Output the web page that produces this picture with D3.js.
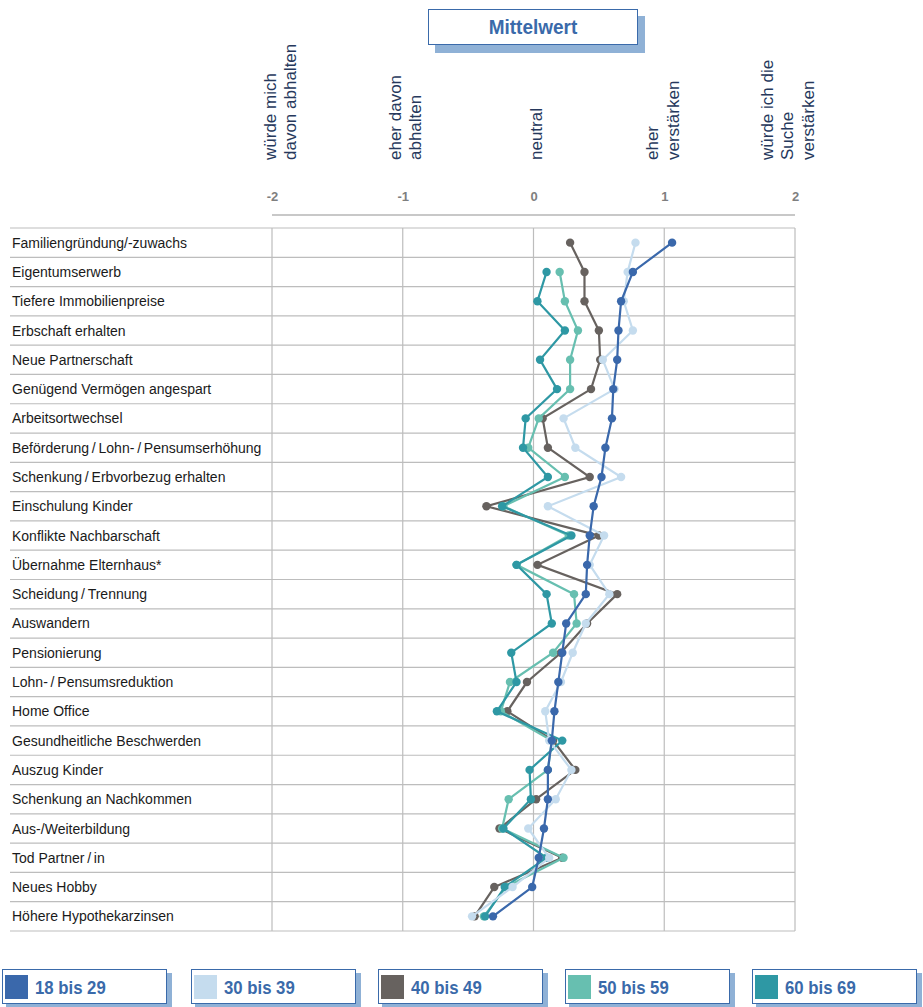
<!DOCTYPE html>
<html><head><meta charset="utf-8">
<script src="https://cdn.jsdelivr.net/npm/d3@7"></script>
<style>
html,body{margin:0;padding:0;background:#fff;}
svg{display:block;font-family:"Liberation Sans",Arial,sans-serif;}
</style></head>
<body>
<svg id="chart" width="923" height="1007"></svg>
<script>
const categories = [
  "Familiengründung/-zuwachs","Eigentumserwerb","Tiefere Immobilienpreise","Erbschaft erhalten",
  "Neue Partnerschaft","Genügend Vermögen angespart","Arbeitsortwechsel",
  "Beförderung\u2009/\u2009Lohn-\u2009/\u2009Pensumserhöhung","Schenkung\u2009/\u2009Erbvorbezug erhalten",
  "Einschulung Kinder","Konflikte Nachbarschaft","Übernahme Elternhaus*","Scheidung\u2009/\u2009Trennung",
  "Auswandern","Pensionierung","Lohn-\u2009/\u2009Pensumsreduktion","Home Office","Gesundheitliche Beschwerden",
  "Auszug Kinder","Schenkung an Nachkommen","Aus-/Weiterbildung","Tod Partner\u2009/\u2009in","Neues Hobby",
  "Höhere Hypothekarzinsen"
];
const seriesNames = ["18 bis 29","30 bis 39","40 bis 49","50 bis 59","60 bis 69"];
const v18_29 = [1.06,0.76,0.67,0.65,0.64,0.61,0.60,0.55,0.52,0.46,0.43,0.41,0.40,0.25,0.22,0.19,0.16,0.14,0.11,0.11,0.08,0.04,-0.01,-0.31];
const v30_39 = [0.78,0.72,0.69,0.76,0.53,0.62,0.23,0.32,0.67,0.11,0.54,0.43,0.58,0.40,0.30,0.21,0.09,0.12,0.29,0.17,-0.04,0.12,-0.16,-0.47];
const v40_49 = [0.28,0.39,0.39,0.50,0.51,0.44,0.07,0.11,0.43,-0.36,0.50,0.03,0.64,0.41,0.21,-0.05,-0.20,0.15,0.32,0.02,-0.26,0.22,-0.30,-0.45];
const v50_59 = [null,0.20,0.24,0.34,0.28,0.28,0.04,-0.04,0.24,-0.23,0.27,-0.13,0.31,0.33,0.15,-0.18,-0.25,0.14,0.11,-0.19,-0.24,0.23,-0.21,-0.38];
const v60_69 = [null,0.10,0.03,0.24,0.05,0.18,-0.06,-0.08,0.11,-0.24,0.29,-0.13,0.10,0.14,-0.17,-0.13,-0.28,0.22,-0.03,-0.02,-0.23,0.10,-0.22,-0.37];
const tickValues = [-2,-1,0,1,2];
const tickLabels = ["-2","-1","0","1","2"];
const scaleLabels = [["würde mich","davon abhalten"],["eher davon","abhalten"],["neutral"],["eher","verstärken"],["würde ich die","Suche","verstärken"]];
const colors = ["#3a68ab","#c5dcee","#67625f","#67bfb0","#2e98a4"];

const seriesValues = [v18_29,v30_39,v40_49,v50_59,v60_69];
const svg = d3.select("#chart");
const blue = "#3a6aaa", shadow = "#8fb1d6";
const narrow = "'Liberation Sans Narrow','Arial Narrow','Liberation Sans',sans-serif";

const x = d3.scaleLinear().domain([-2,2]).range([272,795]);
const y = d3.scaleBand().domain(categories).range([228,931]);

// title box
svg.append("rect").attr("x",435).attr("y",16).attr("width",210).attr("height",37).attr("fill",shadow);
svg.append("rect").attr("x",428.5).attr("y",9.5).attr("width",209).attr("height",35).attr("fill","#fff").attr("stroke",blue).attr("stroke-width",1);
svg.append("text").attr("transform","translate(533,34) scale(0.95,1)").attr("text-anchor","middle").attr("fill",blue)
  .attr("font-weight","bold").attr("font-size",20).style("font-family",narrow).text("Mittelwert");

// rotated scale labels
const labelShift = [8,2,2,-2,-8];
scaleLabels.forEach((lines,i)=>{
  const cx = x(tickValues[i]) + labelShift[i];
  const n = lines.length;
  lines.forEach((t,j)=>{
    const lx = cx + (j-(n-1)/2)*20.5 + 6;
    svg.append("text").attr("transform",`translate(${lx},160) rotate(-90)`)
      .attr("fill","#26385c").attr("font-size",17).text(t);
  });
});

// tick labels
const axisG = svg.append("g").attr("transform","translate(0,196)")
  .call(d3.axisTop(x).tickValues(tickValues).tickSize(0).tickFormat((d,i)=>tickLabels[i]));
axisG.select(".domain").remove();
axisG.selectAll("text").attr("fill","#7f7f7f").attr("font-weight","bold").attr("font-size",13)
  .attr("dy","0.35em").attr("y",0).style("font-family",narrow);

svg.append("line").attr("x1",272).attr("x2",795).attr("y1",215).attr("y2",215).attr("stroke","#c8c8c8").attr("stroke-width",2);

// horizontal grid
const rowEdges = categories.map(c=>y(c)).concat([y.range()[1]]);
svg.append("g").selectAll("line").data(rowEdges).join("line")
  .attr("x1",10).attr("x2",795).attr("y1",d=>d).attr("y2",d=>d)
  .attr("stroke","#bdbdbd").attr("stroke-width",1.2);
// vertical grid
svg.append("g").selectAll("line").data(tickValues).join("line")
  .attr("x1",d=>x(d)).attr("x2",d=>x(d)).attr("y1",228).attr("y2",931)
  .attr("stroke","#bdbdbd").attr("stroke-width",1.2);

// category labels
svg.append("g").selectAll("text").data(categories).join("text")
  .attr("x",12).attr("y",d=>y(d)+y.bandwidth()/2).attr("dy","0.36em")
  .attr("font-size",14).attr("fill","#1a1a1a").text(d=>d);

// series
const order = [2,3,4,1,0];
const line = d3.line().defined(d=>d.v!==null).x(d=>x(d.v)).y(d=>d.y);
order.forEach(si=>{
  const pts = seriesValues[si].map((v,i)=>({v, y:y(categories[i])+y.bandwidth()/2}));
  const g = svg.append("g");
  g.append("path").datum(pts).attr("d",line).attr("fill","none").attr("stroke",colors[si]).attr("stroke-width",2.2);
  g.selectAll("circle").data(pts.filter(p=>p.v!==null)).join("circle")
    .attr("cx",d=>x(d.v)).attr("cy",d=>d.y).attr("r",4.2).attr("fill",colors[si]);
});

// legend
const legX = [2,191,378,565,752];
seriesNames.forEach((name,i)=>{
  const g = svg.append("g").attr("transform",`translate(${legX[i]},969)`);
  g.append("rect").attr("x",4).attr("y",4).attr("width",166).attr("height",35).attr("fill",shadow);
  g.append("rect").attr("x",0.5).attr("y",0.5).attr("width",164).attr("height",34).attr("fill","#fff").attr("stroke",blue).attr("stroke-width",1);
  g.append("rect").attr("x",3).attr("y",6).attr("width",23).attr("height",24).attr("fill",colors[i]);
  g.append("text").attr("transform","translate(33,25) scale(0.93,1)").attr("fill",blue).attr("font-weight","bold").attr("font-size",18)
    .style("font-family",narrow).text(name);
});
</script>
</body></html>
